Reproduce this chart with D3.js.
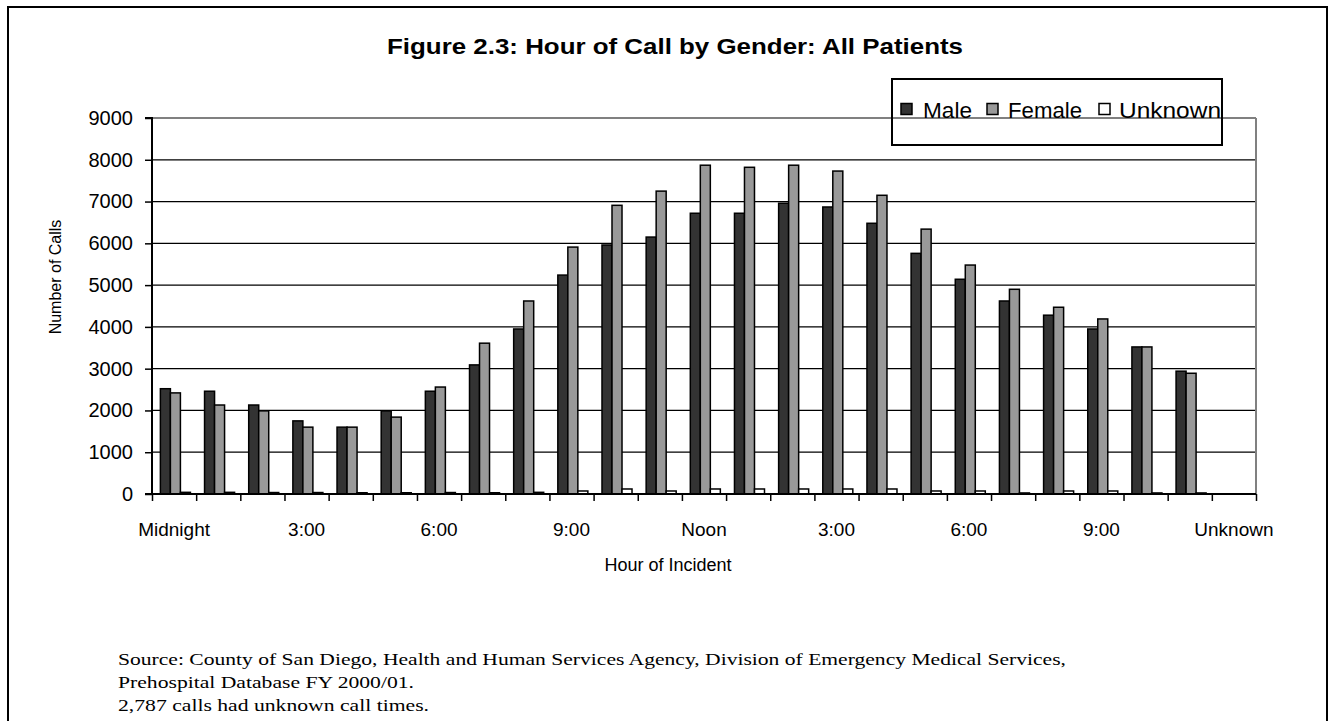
<!DOCTYPE html>
<html>
<head>
<meta charset="utf-8">
<script src="https://cdn.jsdelivr.net/npm/d3@7"></script>
<style>
  html, body { margin: 0; padding: 0; background: #fff; }
  svg { display: block; }
</style>
</head>
<body>
<svg id="chart" width="1333" height="721"></svg>
<script>
// ---- data ----
const categories = ["Midnight","1:00","2:00","3:00","4:00","5:00","6:00","7:00","8:00","9:00","10:00","11:00",
  "Noon","1:00 PM","2:00 PM","3:00 PM","4:00 PM","5:00 PM","6:00 PM","7:00 PM","8:00 PM","9:00 PM","10:00 PM","11:00 PM","Unknown"];
const tickLabels = ["Midnight","3:00","6:00","9:00","Noon","3:00","6:00","9:00","Unknown"];
const tickLabelIndex = [0,3,6,9,12,15,18,21,24];
const seriesNames = ["Male","Female","Unknown"];
const male    = [2520,2460,2130,1750,1600,1990,2460,3090,3950,5240,5960,6150,6720,6720,6960,6870,6480,5760,5140,4620,4280,3950,3520,2940,0];
const female  = [2420,2130,1990,1600,1600,1840,2560,3610,4620,5910,6910,7250,7870,7820,7870,7730,7150,6340,5480,4900,4470,4190,3520,2890,0];
const unknown = [40,40,35,35,30,30,35,30,40,72,120,72,120,120,120,120,120,72,72,25,72,72,25,25,0];
const yTicks = [0,1000,2000,3000,4000,5000,6000,7000,8000,9000];
const colors = {Male:"#333333", Female:"#999999", Unknown:"#ffffff"};

(function(){
const rows = categories.map((c,i)=>({cat:c, Male:male[i], Female:female[i], Unknown:unknown[i]}));

const svg = d3.select("#chart");
const sans = "'Liberation Sans', Arial, sans-serif";

// outer frame
svg.append("rect").attr("x",8).attr("y",7).attr("width",1319).attr("height",740)
  .attr("fill","none").attr("stroke","#000").attr("stroke-width",2);

const pL = 152, pR = 1256, pT = 118, pB = 494;
const x = d3.scaleBand().domain(d3.range(categories.length)).range([pL,pR]).padding(0);
const bw = x.bandwidth();
const xs = d3.scaleBand().domain(seriesNames).range([bw*0.19, bw*0.87]).padding(0);
const y = d3.scaleLinear().domain([0,9000]).range([pB, pT]);

// gridlines
svg.append("g").selectAll("line").data(yTicks.filter(t=>t>0)).join("line")
  .attr("x1",pL).attr("x2",pR).attr("y1",d=>y(d)).attr("y2",d=>y(d))
  .attr("stroke",d=>d===9000?"#808080":"#000").attr("stroke-width",d=>d===9000?2:1.2);
// right border gray
svg.append("line").attr("x1",pR).attr("x2",pR).attr("y1",pT).attr("y2",pB)
  .attr("stroke","#808080").attr("stroke-width",2);

// bars
const g = svg.append("g");
rows.forEach((r,i)=>{
  seriesNames.forEach(s=>{
    if (r[s] <= 0) return;
    g.append("rect")
      .attr("x", x(i) + xs(s))
      .attr("y", y(r[s]))
      .attr("width", xs.bandwidth())
      .attr("height", y(0) - y(r[s]))
      .attr("fill", colors[s]).attr("stroke","#000").attr("stroke-width",1.5);
  });
});

// y axis
const yAxis = d3.axisLeft(y).tickValues(yTicks).tickSize(7).tickPadding(12).tickFormat(d3.format("d"));
const ya = svg.append("g").attr("transform",`translate(${pL},0)`).call(yAxis);
ya.select(".domain").attr("stroke","#000").attr("stroke-width",2).attr("d",`M-7,${pT}H0V${pB}H-7`);
ya.selectAll(".tick line").attr("stroke","#000").attr("stroke-width",1.5);
ya.selectAll(".tick text").attr("font-family",sans).attr("font-size",20).attr("fill","#000");

// x axis: ticks at category boundaries
const xb = d3.scaleLinear().domain([0,categories.length]).range([pL,pR]);
const xa = svg.append("g").attr("transform",`translate(0,${pB})`)
  .call(d3.axisBottom(xb).tickValues(d3.range(categories.length+1)).tickSize(7).tickFormat(""));
xa.select(".domain").attr("stroke","#000").attr("stroke-width",2).attr("d",`M${pL},0H${pR}`);
xa.selectAll(".tick line").attr("stroke","#000").attr("stroke-width",1.5);

// x labels
svg.append("g").selectAll("text").data(tickLabelIndex).join("text")
  .attr("x",d=>x(d)+bw/2).attr("y",536)
  .attr("text-anchor","middle").attr("font-family",sans).attr("font-size",19)
  .text((d,i)=>tickLabels[i]);

// axis titles
svg.append("text").attr("x",668).attr("y",571).attr("text-anchor","middle")
  .attr("font-family",sans).attr("font-size",18).text("Hour of Incident");
svg.append("text").attr("transform","translate(61,277) rotate(-90)").attr("text-anchor","middle")
  .attr("font-family",sans).attr("font-size",16).text("Number of Calls");

// title
svg.append("text").attr("x",387).attr("y",54)
  .attr("font-family",sans).attr("font-size",22).attr("font-weight","bold")
  .attr("textLength",576).attr("lengthAdjust","spacingAndGlyphs")
  .text("Figure 2.3: Hour of Call by Gender: All Patients");

// legend
svg.append("rect").attr("x",892).attr("y",79).attr("width",330).attr("height",66)
  .attr("fill","none").attr("stroke","#000").attr("stroke-width",2);
const legX = [901, 987, 1099];
const legTX = [923, 1008, 1119];
const legW = [49, 74, 102];
const lg = svg.append("g");
seriesNames.forEach((s,i)=>{
  lg.append("rect").attr("x",legX[i]).attr("y",103.5).attr("width",11).attr("height",11)
    .attr("fill",colors[s]).attr("stroke","#000").attr("stroke-width",1.5);
  lg.append("text").attr("x",legTX[i]).attr("y",118).attr("font-family",sans).attr("font-size",22)
    .attr("textLength",legW[i]).attr("lengthAdjust","spacingAndGlyphs").text(s);
});

// source notes
const notes = ["Source: County of San Diego, Health and Human Services Agency, Division of Emergency Medical Services,",
  "Prehospital Database FY 2000/01.",
  "2,787 calls had unknown call times."];
const noteW = [948, 296, 311];
svg.append("g").selectAll("text").data(notes).join("text")
  .attr("x",118).attr("y",(d,i)=>665+i*23)
  .attr("font-family","'Liberation Serif', 'Times New Roman', serif").attr("font-size",17)
  .attr("textLength",(d,i)=>noteW[i]).attr("lengthAdjust","spacingAndGlyphs")
  .text(d=>d);
})();
</script>
</body>
</html>
